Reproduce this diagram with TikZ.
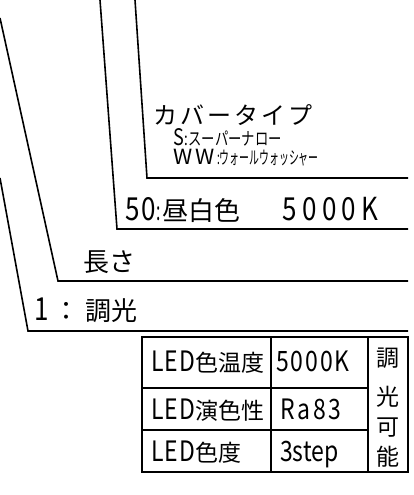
\documentclass[tikz,border=0pt]{standalone}
\usepackage{fontspec}
\setmainfont{Noto Sans CJK JP}
\newfontfamily\cjk{Noto Sans CJK JP}
\tikzset{
  leader/.style={line width=1.6pt, line join=miter},
  tblout/.style={line width=2.2pt},
  tblin/.style={line width=1.4pt},
  lbl/.style={inner sep=0pt, anchor=base west, font=\cjk\fontsize{26}{26}\selectfont},
  small/.style={inner sep=0pt, anchor=base west, font=\cjk\fontsize{18}{18}\selectfont},
  cell/.style={inner sep=0pt, anchor=base west, font=\cjk\fontsize{23}{23}\selectfont},
}
% narrow / stretched latin
\newcommand{\nx}[2][0.75]{\scalebox{#1}[1]{#2}}
\newcommand{\lat}[2][10]{\scalebox{1}[1.22]{\addfontfeatures{LetterSpace=#1}#2}}
\begin{document}
\begin{tikzpicture}[x=1pt,y=-1pt]
\useasboundingbox (0,0) rectangle (414,495);
% leader lines
\coordinate (a1) at (0,18);   \coordinate (b1) at (58,281);  \coordinate (c1) at (408,281);
\coordinate (a2) at (100,0);  \coordinate (b2) at (117,229); \coordinate (c2) at (408,229);
\coordinate (a3) at (135,0);  \coordinate (b3) at (147,178); \coordinate (c3) at (408,178);
\coordinate (a4) at (0,178);  \coordinate (b4) at (28,331);  \coordinate (c4) at (408,331);
\draw[leader] (a1) -- (b1) -- (c1);
\draw[leader] (a2) -- (b2) -- (c2);
\draw[leader] (a3) -- (b3) -- (c3);
\draw[leader] (a4) -- (b4) -- (c4);
% labels
\node[lbl, font=\cjk\fontsize{24}{24}\selectfont] (cover) at (153,124) {カ\hspace{3pt}バ\hspace{3pt}ー\hspace{3pt}タ\hspace{3pt}イ\hspace{3pt}プ};
\node[small] (s) at (173,145) {\scalebox{0.95}[1.2]{\fontsize{19}{19}\selectfont S}\hspace{1pt}\nx[0.74]{:スーパーナロー}};
\node[small] (ww) at (173,164) {\scalebox{1.15}[1.1]{\fontsize{19}{19}\selectfont W\hspace{3pt}W}\hspace{2pt}\nx[0.55]{:ウォールウォッシャー}};
\node[lbl] (temp) at (125,220) {\lat[6]{50}\hspace{1pt}\nx[0.6]{:}\hspace{2pt}昼白色\hspace{42pt}\lat[20]{5000K}};
\node[lbl] (len) at (83,271) {長さ};
\node[lbl] (dim) at (34,320) {\lat{1}\hspace{5pt}：\hspace{6pt}調光};
% table
\draw[tblout] (142,337) rectangle (408,472);
\draw[tblin] (271,337) -- (271,472);
\draw[tblin] (368,337) -- (368,472);
\draw[tblin] (142,388) -- (368,388);
\draw[tblin] (142,430) -- (368,430);
\node[cell] (r1a) at (151,371) {\lat[5]{LED}色温度};
\node[cell] (r1b) at (276,371) {\lat[8]{5000K}};
\node[cell] (r2a) at (151,419) {\lat[5]{LED}演色性};
\node[cell] (r2b) at (280,419) {\lat[12]{Ra83}};
\node[cell] (r3a) at (151,461) {\lat[5]{LED}色度};
\node[cell] (r3b) at (280,461) {\lat[0]{3step}};
\node[cell, anchor=center] (v1) at (388,358) {調};
\node[cell, anchor=center] (v2) at (388,397) {光};
\node[cell, anchor=center] (v3) at (388,428) {可};
\node[cell, anchor=center] (v4) at (388,457) {能};
\end{tikzpicture}
\end{document}
